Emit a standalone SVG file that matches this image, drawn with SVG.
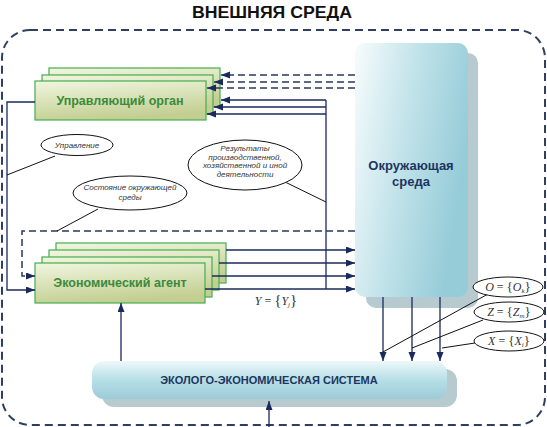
<svg xmlns="http://www.w3.org/2000/svg" width="547" height="427" viewBox="0 0 547 427">
<style>
.title{font-family:"Liberation Sans",Arial,sans-serif;font-weight:bold;font-size:16px;fill:#111}
.green{fill:url(#gGreen);stroke:#45ad4f;stroke-width:1.2}
.gtext{font-family:"Liberation Sans",Arial,sans-serif;font-weight:bold;font-size:12.5px;fill:#3a8a3c}
.btext{font-family:"Liberation Sans",Arial,sans-serif;font-weight:bold;fill:#1d355f}
.shadow{fill:#b7cad0}
.ell{fill:#fff;stroke:#111;stroke-width:1}
.etext{font-family:"Liberation Sans",Arial,sans-serif;font-style:italic;font-size:8px;fill:#333}
.math{font-family:"Liberation Serif","Times New Roman",serif;font-size:12px;fill:#333}
.conn{fill:none;stroke:#1a2a5c;stroke-width:1.3}
.dash{fill:none;stroke:#2a3a5e;stroke-width:1.5;stroke-dasharray:7 4}
.thin{fill:none;stroke:#111;stroke-width:1}
</style>
<defs>
<linearGradient id="gGreen" x1="0" y1="0" x2="0.3" y2="1">
<stop offset="0" stop-color="#f1f6e0"/>
<stop offset="1" stop-color="#c3cf92"/>
</linearGradient>
<linearGradient id="gEnv" x1="0" y1="0" x2="1" y2="0.35">
<stop offset="0" stop-color="#f7fcfd"/>
<stop offset="0.5" stop-color="#c2e3ea"/>
<stop offset="1" stop-color="#96ccd8"/>
</linearGradient>
<linearGradient id="gSys" x1="0" y1="0" x2="0" y2="1">
<stop offset="0" stop-color="#eef8fa"/>
<stop offset="0.5" stop-color="#b6dfe7"/>
<stop offset="1" stop-color="#9ccbd8"/>
</linearGradient>
<marker id="ah" markerUnits="userSpaceOnUse" markerWidth="10" markerHeight="8" refX="9" refY="3.5" orient="auto">
<path d="M0,0 L9,3.5 L0,7 z" fill="#1a2a5c"/>
</marker>
</defs>

<text class="title" x="272" y="18" text-anchor="middle" textLength="160" lengthAdjust="spacingAndGlyphs">ВНЕШНЯЯ СРЕДА</text>

<g id="external">
<rect x="2" y="30" width="543" height="395" rx="28" fill="none" stroke="#2f3e63" stroke-width="2" stroke-dasharray="8 5"/>
</g>

<g id="control-organ">
<rect class="green" x="49" y="68" width="171" height="39"/>
<rect class="green" x="42" y="75" width="171" height="39"/>
<rect class="green" x="35" y="81" width="171" height="39"/>
<text class="gtext" x="120" y="105" text-anchor="middle">Управляющий орган</text>
</g>

<g id="economic-agent">
<rect class="green" x="56" y="243" width="170" height="40"/>
<rect class="green" x="49" y="250" width="170" height="40"/>
<rect class="green" x="42" y="257" width="170" height="40"/>
<rect class="green" x="35" y="263" width="170" height="40"/>
<text class="gtext" x="120" y="287" text-anchor="middle">Экономический агент</text>
</g>

<g id="environment">
<rect class="shadow" x="366" y="53" width="112" height="255" rx="10"/>
<rect x="355" y="43" width="113" height="254" rx="10" fill="url(#gEnv)"/>
<text class="btext" font-size="13" x="411" y="170" text-anchor="middle">Окружающая</text>
<text class="btext" font-size="13" x="411" y="186" text-anchor="middle">среда</text>
</g>

<g id="eco-system">
<rect class="shadow" x="102" y="369" width="355" height="38" rx="12"/>
<rect x="92" y="361" width="355" height="38" rx="12" fill="url(#gSys)"/>
<text class="btext" font-size="11" x="269" y="384" text-anchor="middle">ЭКОЛОГО-ЭКОНОМИЧЕСКАЯ СИСТЕМА</text>
</g>

<g id="connectors">
<path class="dash" d="M355,75 H229" />
<path class="dash" d="M355,82 H222" />
<path class="dash" d="M355,88 H215" />
<path class="conn" d="M229,75 H221" marker-end="url(#ah)"/>
<path class="conn" d="M222,82 H214" marker-end="url(#ah)"/>
<path class="conn" d="M215,88 H207" marker-end="url(#ah)"/>
<path class="conn" d="M326,100 H221" marker-end="url(#ah)"/>
<path class="conn" d="M326,107 H214" marker-end="url(#ah)"/>
<path class="conn" d="M326,114 H207" marker-end="url(#ah)"/>
<path class="conn" d="M326,100 V289"/>
<path class="conn" d="M35,102 H7 V290 H35" marker-end="url(#ah)"/>
<path class="dash" d="M355,231 H22 V276 H27"/>
<path class="conn" d="M27,276 H35" marker-end="url(#ah)"/>
<path class="conn" d="M226,250 H355" marker-end="url(#ah)"/>
<path class="conn" d="M219,263 H355" marker-end="url(#ah)"/>
<path class="conn" d="M212,276 H355" marker-end="url(#ah)"/>
<path class="conn" d="M205,289 H355" marker-end="url(#ah)"/>
<path class="conn" d="M383,297 V361" marker-end="url(#ah)"/>
<path class="conn" d="M412,297 V361" marker-end="url(#ah)"/>
<path class="conn" d="M440,297 V361" marker-end="url(#ah)"/>
<path class="conn" d="M121,361 V303" marker-end="url(#ah)"/>
<path class="conn" d="M269,427 V401" marker-end="url(#ah)"/>
<path class="thin" d="M55,156 L7,175"/>
<path class="thin" d="M98,209 L57,231"/>
<path class="thin" d="M283,181 L326,202"/>
<path class="thin" d="M488,294 L383,352"/>
<path class="thin" d="M483,320 L412,348"/>
<path class="thin" d="M475,343 L442,348"/>
</g>

<g id="label-control">
<ellipse class="ell" cx="77" cy="145" rx="36" ry="10.5"/>
<text class="etext" x="77" y="148" text-anchor="middle">Управление</text>
</g>
<g id="label-state">
<ellipse class="ell" cx="130" cy="193" rx="57" ry="17"/>
<text class="etext" font-size="8.5" x="130" y="190" text-anchor="middle">Состояние окружающей</text>
<text class="etext" font-size="8.5" x="130" y="199.5" text-anchor="middle">среды</text>
</g>
<g id="label-results">
<ellipse class="ell" cx="245" cy="165" rx="57" ry="25"/>
<text class="etext" x="245" y="151" text-anchor="middle">Результаты</text>
<text class="etext" x="245" y="159.5" text-anchor="middle">производственной,</text>
<text class="etext" x="245" y="168" text-anchor="middle">хозяйственной и иной</text>
<text class="etext" x="245" y="176.5" text-anchor="middle">деятельности</text>
</g>
<g id="label-Y">
<text class="math" x="276" y="305" text-anchor="middle"><tspan font-style="italic">Y</tspan> = <tspan font-size="15">{</tspan><tspan font-style="italic">Y</tspan><tspan font-style="italic" font-size="7" dy="2">j</tspan><tspan font-size="15" dy="-2">}</tspan></text>
</g>
<g id="label-O">
<ellipse class="ell" cx="508" cy="287" rx="35" ry="10"/>
<text class="math" x="508" y="291" text-anchor="middle"><tspan font-style="italic">O</tspan> = <tspan font-size="13">{</tspan><tspan font-style="italic">O</tspan><tspan font-style="italic" font-size="7" dy="2">k</tspan><tspan font-size="13" dy="-2">}</tspan></text>
</g>
<g id="label-Z">
<ellipse class="ell" cx="509" cy="312" rx="35" ry="10"/>
<text class="math" x="509" y="316" text-anchor="middle"><tspan font-style="italic">Z</tspan> = <tspan font-size="13">{</tspan><tspan font-style="italic">Z</tspan><tspan font-style="italic" font-size="7" dy="2">m</tspan><tspan font-size="13" dy="-2">}</tspan></text>
</g>
<g id="label-X">
<ellipse class="ell" cx="509" cy="341" rx="35" ry="10"/>
<text class="math" x="509" y="345" text-anchor="middle"><tspan font-style="italic">X</tspan> = <tspan font-size="13">{</tspan><tspan font-style="italic">X</tspan><tspan font-style="italic" font-size="7" dy="2">i</tspan><tspan font-size="13" dy="-2">}</tspan></text>
</g>
</svg>
